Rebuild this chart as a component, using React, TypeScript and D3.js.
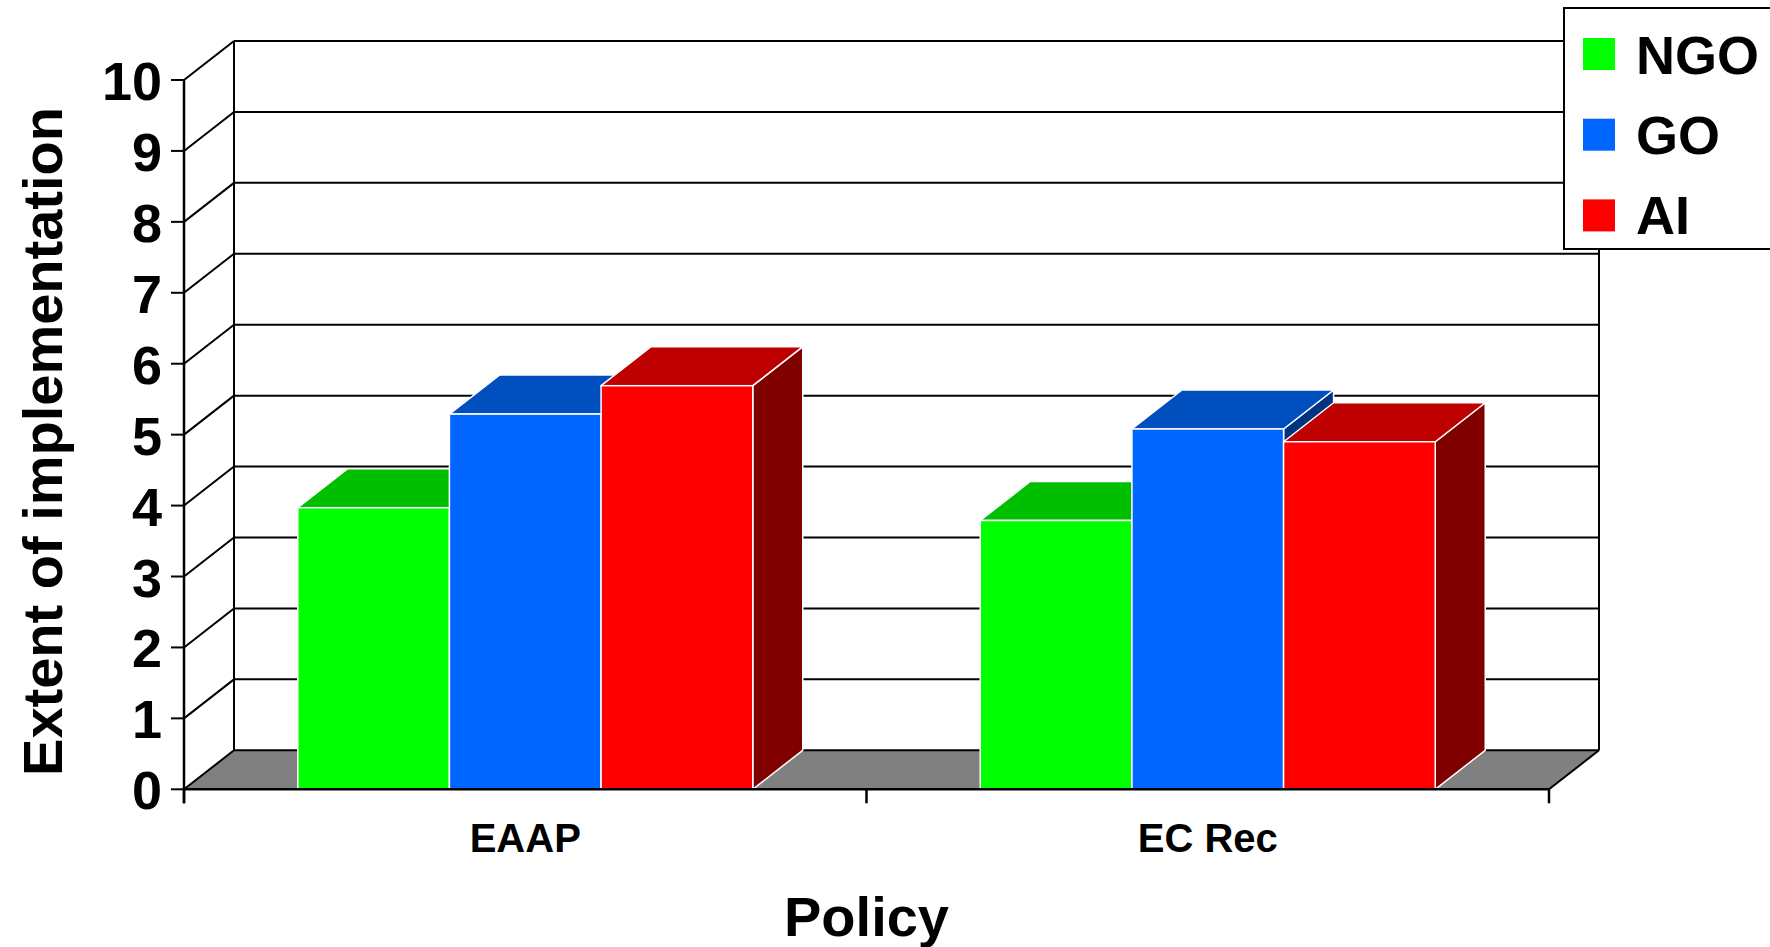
import React from "react";
import * as d3 from "d3";

const categories = ["EAAP", "EC Rec"];
const seriesNames = ["NGO", "GO", "AI"];
const ngoValues = [3.97, 3.79];
const goValues = [5.29, 5.08];
const aiValues = [5.69, 4.9];
const yTicks = [0, 1, 2, 3, 4, 5, 6, 7, 8, 9, 10];

const frontColors = ["#00FF00", "#0066FF", "#FF0000"];
const topColors = ["#00BF00", "#004FBF", "#BF0000"];
const sideColors = ["#008000", "#003380", "#800000"];

const W = 1770;
const H = 947;
const left = 184;
const right = 1549;
const y0 = 789.3;
const y10 = 80;
const DX = 50;
const DY = 39;
const FONT = "'Liberation Sans', Arial, Helvetica, sans-serif";

export default function App() {
  const y = d3.scaleLinear().domain([0, 10]).range([y0, y10]);
  const x = d3.scaleBand<string>().domain(categories).range([left, right]).padding(0);
  const bw = x.bandwidth();
  const inner = d3
    .scaleBand<string>()
    .domain(seriesNames)
    .range([bw / 6, (bw * 5) / 6])
    .padding(0);
  const seriesValues = [ngoValues, goValues, aiValues];

  const backLeft = left + DX;
  const backRight = right + DX;

  const bars: React.ReactNode[] = [];
  categories.forEach((cat, ci) => {
    seriesNames.forEach((s, si) => {
      const v = seriesValues[si][ci];
      const x0 = (x(cat) as number) + (inner(s) as number);
      const x1 = x0 + inner.bandwidth();
      const yt = y(v);
      const yb = y(0);
      const top = `M${x0},${yt} L${x0 + DX},${yt - DY} L${x1 + DX},${yt - DY} L${x1},${yt} Z`;
      const side = `M${x1},${yt} L${x1 + DX},${yt - DY} L${x1 + DX},${yb - DY} L${x1},${yb} Z`;
      bars.push(
        <g key={`${cat}-${s}`}>
          <path d={side} fill={sideColors[si]} stroke="#fff" strokeWidth={1.5} strokeLinejoin="round" />
          <path d={top} fill={topColors[si]} stroke="#fff" strokeWidth={1.5} strokeLinejoin="round" />
          <rect x={x0} y={yt} width={x1 - x0} height={yb - yt} fill={frontColors[si]} stroke="#fff" strokeWidth={1.5} />
        </g>
      );
    });
  });

  return (
    <svg
      width={W}
      height={H}
      style={{ position: "absolute", left: 0, top: 0, background: "#fff" }}
      fontFamily={FONT}
      fontWeight="bold"
    >
      <rect x={0} y={0} width={W} height={H} fill="#fff" />
      {/* floor */}
      <path
        d={`M${left},${y(0)} L${backLeft},${y(0) - DY} L${backRight},${y(0) - DY} L${right},${y(0)} Z`}
        fill="#808080"
      />
      {/* back wall gridlines */}
      {yTicks.map((t) => (
        <line key={`g${t}`} x1={backLeft} x2={backRight} y1={y(t) - DY} y2={y(t) - DY} stroke="#000" strokeWidth={2} />
      ))}
      {/* left wall diagonals */}
      {yTicks.map((t) => (
        <line key={`d${t}`} x1={left} x2={backLeft} y1={y(t)} y2={y(t) - DY} stroke="#000" strokeWidth={2} />
      ))}
      <line x1={backLeft} x2={backLeft} y1={y(10) - DY} y2={y(0) - DY} stroke="#000" strokeWidth={2} />
      <line x1={backRight} x2={backRight} y1={y(10) - DY} y2={y(0) - DY} stroke="#000" strokeWidth={2} />
      <line x1={right} x2={backRight} y1={y(0)} y2={y(0) - DY} stroke="#000" strokeWidth={2} />
      {/* bars */}
      {bars}
      {/* front axes */}
      <line x1={left} x2={left} y1={y(10)} y2={y(0) + 14} stroke="#000" strokeWidth={2.5} />
      <line x1={left} x2={right} y1={y(0)} y2={y(0)} stroke="#000" strokeWidth={2.5} />
      {yTicks.map((t) => (
        <g key={`t${t}`}>
          <line x1={left - 13} x2={left} y1={y(t)} y2={y(t)} stroke="#000" strokeWidth={2} />
          <text x={162} y={y(t) + 20} textAnchor="end" fontSize={54} fill="#000">
            {t}
          </text>
        </g>
      ))}
      {[left, left + bw, right].map((xx, i) => (
        <line key={`ct${i}`} x1={xx} x2={xx} y1={y(0)} y2={y(0) + 14} stroke="#000" strokeWidth={2.5} />
      ))}
      {categories.map((c) => (
        <text key={c} x={(x(c) as number) + bw / 2} y={852} textAnchor="middle" fontSize={40} fill="#000">
          {c}
        </text>
      ))}
      <text x={(left + right) / 2} y={936} textAnchor="middle" fontSize={56} fill="#000">
        Policy
      </text>
      <text
        transform={`translate(62,441.5) rotate(-90)`}
        textAnchor="middle"
        fontSize={56}
        fill="#000"
      >
        Extent of implementation
      </text>
      {/* legend */}
      <rect x={1564} y={8} width={240} height={241} fill="#fff" stroke="#000" strokeWidth={2} />
      {seriesNames.map((s, i) => (
        <g key={`l${s}`}>
          <rect x={1583} y={38 + i * 80.7} width={32} height={32} fill={frontColors[i]} />
          <text x={1636} y={74 + i * 80} fontSize={54} fill="#000">
            {s}
          </text>
        </g>
      ))}
    </svg>
  );
}
